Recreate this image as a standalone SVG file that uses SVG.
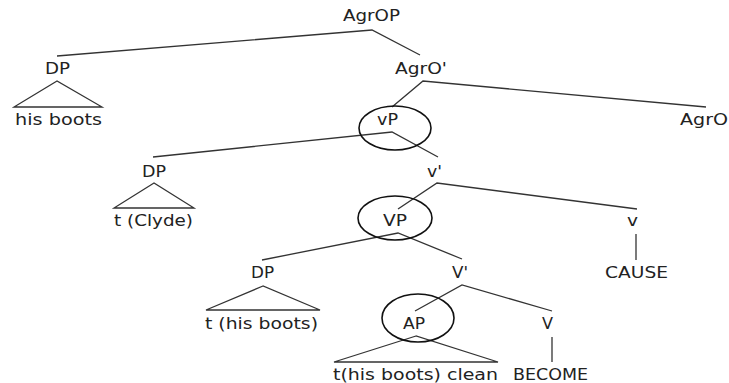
<svg xmlns="http://www.w3.org/2000/svg" width="729" height="383" viewBox="0 0 729 383">
<style>
text{font-family:"DejaVu Sans","Liberation Sans",sans-serif;font-size:15px;fill:#222}
.e{stroke:#333;stroke-width:1.3;fill:none}
.c{fill:none;stroke:#111;stroke-width:1.6}
</style>
<rect width="729" height="383" fill="#fff"/>
<g id="connectors">
<polyline class="e" points="57,56 372,30 420,55"/>
<polygon class="e" points="57,81 14,107 102,107"/>
<polyline class="e" points="392,107 423,81 706,107"/>
<polyline class="e" points="153,157 392,132 438,157"/>
<polygon class="e" points="154,183 114,208 194,208"/>
<polyline class="e" points="398,209 437,183 637,209"/>
<polyline class="e" points="262,260 398,233 462,259"/>
<line class="e" x1="636" y1="234" x2="636" y2="260"/>
<polygon class="e" points="263,286 206,310 320,310"/>
<polyline class="e" points="415,311 462,285 552,311"/>
<polygon class="e" points="416,336 334,362 498,362"/>
<line class="e" x1="552" y1="337" x2="552" y2="362"/>
</g>
<g id="AgrOP"><text x="343" y="21" textLength="57" lengthAdjust="spacingAndGlyphs">AgrOP</text></g>
<g id="DP1"><text x="45" y="74" textLength="25" lengthAdjust="spacingAndGlyphs">DP</text></g>
<g id="AgrObar"><text x="395" y="74" textLength="52" lengthAdjust="spacingAndGlyphs">AgrO'</text></g>
<g id="hisboots"><text x="15" y="125" textLength="87" lengthAdjust="spacingAndGlyphs">his boots</text></g>
<g id="vP"><ellipse class="c" cx="395" cy="128" rx="36" ry="22"/><text x="377" y="125" textLength="21" lengthAdjust="spacingAndGlyphs">vP</text></g>
<g id="AgrO"><text x="680" y="125" textLength="48" lengthAdjust="spacingAndGlyphs">AgrO</text></g>
<g id="DP2"><text x="142" y="177" textLength="24" lengthAdjust="spacingAndGlyphs">DP</text></g>
<g id="vbar"><text x="427" y="177" textLength="15" lengthAdjust="spacingAndGlyphs">v'</text></g>
<g id="tClyde"><text x="114" y="226" textLength="79" lengthAdjust="spacingAndGlyphs">t (Clyde)</text></g>
<g id="VP"><ellipse class="c" cx="395" cy="218" rx="37" ry="22"/><text x="383" y="226" textLength="24" lengthAdjust="spacingAndGlyphs">VP</text></g>
<g id="v"><text x="627" y="226" textLength="11" lengthAdjust="spacingAndGlyphs">v</text></g>
<g id="CAUSE"><text x="605" y="278" textLength="63" lengthAdjust="spacingAndGlyphs">CAUSE</text></g>
<g id="DP3"><text x="251" y="278" textLength="23" lengthAdjust="spacingAndGlyphs">DP</text></g>
<g id="Vbar"><text x="452" y="278" textLength="16" lengthAdjust="spacingAndGlyphs">V'</text></g>
<g id="thisboots"><text x="205" y="329" textLength="113" lengthAdjust="spacingAndGlyphs">t (his boots)</text></g>
<g id="AP"><ellipse class="c" cx="418" cy="318" rx="36" ry="24"/><text x="403" y="329" textLength="22" lengthAdjust="spacingAndGlyphs">AP</text></g>
<g id="V"><text x="542" y="329" textLength="11" lengthAdjust="spacingAndGlyphs">V</text></g>
<g id="tclean"><text x="333" y="380" textLength="165" lengthAdjust="spacingAndGlyphs">t(his boots) clean</text></g>
<g id="BECOME"><text x="513" y="380" textLength="75" lengthAdjust="spacingAndGlyphs">BECOME</text></g>
</svg>
